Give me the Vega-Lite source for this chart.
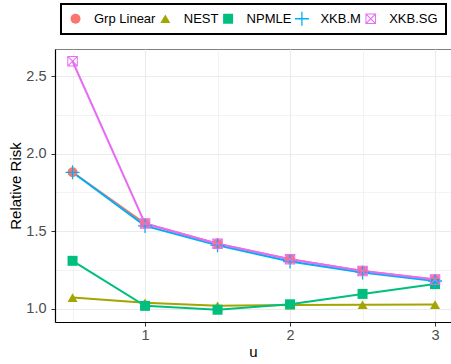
{
  "$schema": "https://vega.github.io/schema/vega-lite/v6.json",
  "width": 396,
  "height": 273,
  "autosize": {"type": "none"},
  "padding": {"left": 55, "top": 49, "right": 0, "bottom": 42},
  "background": "white",
  "config": {
    "view": {"stroke": "#7f7f7f", "strokeWidth": 1},
    "font": "Liberation Sans",
    "legend": {"strokeWidth": 2}
  },
  "data": {
    "values": [
      {"u": 0.5, "method": "Grp Linear", "rr": 1.88},
      {"u": 1.0, "method": "Grp Linear", "rr": 1.55},
      {"u": 1.5, "method": "Grp Linear", "rr": 1.42},
      {"u": 2.0, "method": "Grp Linear", "rr": 1.32},
      {"u": 2.5, "method": "Grp Linear", "rr": 1.245},
      {"u": 3.0, "method": "Grp Linear", "rr": 1.19},
      {"u": 0.5, "method": "NEST", "rr": 1.073},
      {"u": 1.0, "method": "NEST", "rr": 1.04},
      {"u": 1.5, "method": "NEST", "rr": 1.02},
      {"u": 2.0, "method": "NEST", "rr": 1.025},
      {"u": 2.5, "method": "NEST", "rr": 1.027},
      {"u": 3.0, "method": "NEST", "rr": 1.028},
      {"u": 0.5, "method": "NPMLE", "rr": 1.31},
      {"u": 1.0, "method": "NPMLE", "rr": 1.02},
      {"u": 1.5, "method": "NPMLE", "rr": 0.995},
      {"u": 2.0, "method": "NPMLE", "rr": 1.03},
      {"u": 2.5, "method": "NPMLE", "rr": 1.097},
      {"u": 3.0, "method": "NPMLE", "rr": 1.16},
      {"u": 0.5, "method": "XKB.M", "rr": 1.88},
      {"u": 1.0, "method": "XKB.M", "rr": 1.535},
      {"u": 1.5, "method": "XKB.M", "rr": 1.41},
      {"u": 2.0, "method": "XKB.M", "rr": 1.305},
      {"u": 2.5, "method": "XKB.M", "rr": 1.235},
      {"u": 3.0, "method": "XKB.M", "rr": 1.18},
      {"u": 0.5, "method": "XKB.SG", "rr": 2.595},
      {"u": 1.0, "method": "XKB.SG", "rr": 1.55},
      {"u": 1.5, "method": "XKB.SG", "rr": 1.42},
      {"u": 2.0, "method": "XKB.SG", "rr": 1.32},
      {"u": 2.5, "method": "XKB.SG", "rr": 1.245},
      {"u": 3.0, "method": "XKB.SG", "rr": 1.19}
    ]
  },
  "encoding": {
    "x": {
      "field": "u", "type": "quantitative", "title": "u",
      "scale": {"domain": [0.379, 3.11], "nice": false, "zero": false},
      "axis": {
        "values": [0.5, 1, 1.5, 2, 2.5, 3],
        "labelExpr": "datum.value % 1 == 0 ? format(datum.value, 'd') : ''",
        "tickColor": {"condition": {"test": "datum.value % 1 != 0", "value": "transparent"}, "value": "#333333"},
        "gridColor": "#ebebeb",
        "gridWidth": {"condition": {"test": "datum.value % 1 != 0", "value": 0.6}, "value": 1.1},
        "domainColor": "black", "domainWidth": 1.2,
        "tickSize": 4, "labelPadding": 2,
        "labelFontSize": 14.5, "labelColor": "#4d4d4d", "labelFont": "Liberation Sans",
        "titleFontSize": 15, "titleFontWeight": "normal", "titleColor": "black", "titleFont": "Liberation Sans",
        "titlePadding": 3
      }
    },
    "y": {
      "field": "rr", "type": "quantitative", "title": "Relative Risk",
      "scale": {"domain": [0.916, 2.674], "nice": false, "zero": false},
      "axis": {
        "values": [1, 1.25, 1.5, 1.75, 2, 2.25, 2.5],
        "labelExpr": "datum.value % 0.5 == 0 ? format(datum.value, '.1f') : ''",
        "tickColor": {"condition": {"test": "datum.value % 0.5 != 0", "value": "transparent"}, "value": "#333333"},
        "gridColor": "#ebebeb",
        "gridWidth": {"condition": {"test": "datum.value % 0.5 != 0", "value": 0.6}, "value": 1.1},
        "domainColor": "black", "domainWidth": 1.2,
        "tickSize": 4, "labelPadding": 5,
        "labelFontSize": 14.5, "labelColor": "#4d4d4d", "labelFont": "Liberation Sans",
        "titleFontSize": 15, "titleFontWeight": "normal", "titleColor": "black", "titleFont": "Liberation Sans",
        "titlePadding": 2
      }
    },
    "color": {
      "field": "method", "type": "nominal",
      "scale": {
        "domain": ["Grp Linear", "NEST", "NPMLE", "XKB.M", "XKB.SG"],
        "range": ["#F8766D", "#A3A500", "#00BF7D", "#00B0F6", "#E76BF3"]
      },
      "legend": {
        "title": null,
        "orient": "none",
        "direction": "horizontal",
        "legendX": 6,
        "legendY": -45,
        "padding": 8,
        "strokeColor": "black",
        "fillColor": "white",
        "symbolSize": 100,
        "symbolOpacity": 1,
        "labelOffset": 12,
        "columnPadding": 2.8,
        "labelFontSize": 13,
        "labelColor": "black",
        "labelFont": "Liberation Sans",
        "symbolStrokeWidth": 0
      }
    }
  },
  "layer": [
    {
      "mark": {"type": "line", "strokeWidth": 2}
    },
    {
      "mark": {"type": "point", "filled": true, "opacity": 1, "size": 100},
      "encoding": {
        "shape": {
          "field": "method", "type": "nominal",
          "scale": {
            "domain": ["Grp Linear", "NEST", "NPMLE", "XKB.M", "XKB.SG"],
            "range": [
              "circle",
              "triangle-up",
              "square",
              "M-1.4,-0.13H1.4V0.13H-1.4Z M-0.13,-1.4H0.13V1.4H-0.13Z",
              "M-1.05,-1.05H1.05V1.05H-1.05Z M-0.85,-0.85V0.85H0.85V-0.85Z M-1,-0.85L-0.85,-1L1,0.85L0.85,1Z M0.85,-1L1,-0.85L-0.85,1L-1,0.85Z"
            ]
          }
        }
      }
    }
  ]
}
